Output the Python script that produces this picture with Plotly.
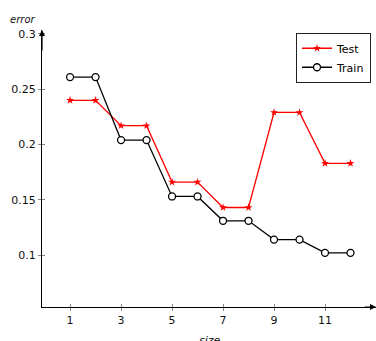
import plotly.graph_objects as go

sizes = [1, 2, 3, 4, 5, 6, 7, 8, 9, 10, 11, 12]
test_err = [0.240, 0.240, 0.217, 0.217, 0.166, 0.166, 0.143, 0.143, 0.229, 0.229, 0.183, 0.183]
train_err = [0.261, 0.261, 0.204, 0.204, 0.153, 0.153, 0.131, 0.131, 0.114, 0.114, 0.102, 0.102]
x_ticks = [1, 3, 5, 7, 9, 11]
y_ticks = [0.1, 0.15, 0.2, 0.25, 0.3]
y_tick_text = ["0.1", "0.15", "0.2", "0.25", "0.3"]

XR = [-0.1, 13.0]
YR = [0.053, 0.3036]
FONT = "DejaVu Sans"

fig = go.Figure()
fig.add_trace(go.Scatter(
    x=sizes, y=test_err, name="Test", mode="lines+markers",
    line=dict(color="red", width=1.3),
    marker=dict(symbol="star", size=6, color="red"),
))
fig.add_trace(go.Scatter(
    x=sizes, y=train_err, name="Train", mode="lines+markers",
    line=dict(color="black", width=1.3),
    marker=dict(symbol="circle", size=7, color="white", line=dict(color="black", width=1.3)),
))

fig.update_layout(
    width=376, height=341,
    margin=dict(l=42, r=0, t=30, b=34, autoexpand=False),
    paper_bgcolor="white", plot_bgcolor="white",
    font=dict(family=FONT, size=11, color="#111"),
    showlegend=True,
    legend=dict(x=0.985, y=0.99, xanchor="right", yanchor="top",
                bordercolor="#222", borderwidth=1, bgcolor="white",
                font=dict(size=11, color="black"), tracegroupgap=0,
                itemwidth=30),
    xaxis=dict(range=XR, tickvals=x_ticks, showgrid=False, zeroline=False, automargin=False,
               showline=True, linecolor="black", linewidth=1.2,
               ticks="outside", ticklen=3, tickcolor="#888", tickwidth=1,
               tickfont=dict(size=11, color="#111")),
    yaxis=dict(range=YR, tickvals=y_ticks, ticktext=y_tick_text, showgrid=False, zeroline=False,
               automargin=False,
               showline=True, linecolor="black", linewidth=1.2,
               ticks="outside", ticklen=3, tickcolor="#888", tickwidth=1,
               tickfont=dict(size=11, color="#111")),
    xaxis2=dict(range=XR, overlaying="x", tickvals=x_ticks, showticklabels=False, automargin=False,
                showgrid=False, zeroline=False, ticks="inside", ticklen=3,
                tickcolor="#888", side="bottom", anchor="y"),
    yaxis2=dict(range=YR, overlaying="y", tickvals=y_ticks, showticklabels=False, automargin=False,
                showgrid=False, zeroline=False, ticks="inside", ticklen=3,
                tickcolor="#888", side="left", anchor="x"),
)
fig.add_trace(go.Scatter(x=[None], y=[None], xaxis="x2", yaxis="y2", showlegend=False))

# arrowheads on axes
fig.add_annotation(x=XR[1], y=YR[0], ax=XR[1] - 0.5, ay=YR[0], xref="x", yref="y",
                   axref="x", ayref="y", text="", showarrow=True, arrowhead=2,
                   arrowsize=1, arrowwidth=1.2, arrowcolor="black")
fig.add_annotation(x=XR[0], y=YR[1], ax=XR[0], ay=YR[1] - 0.02, xref="x", yref="y",
                   axref="x", ayref="y", text="", showarrow=True, arrowhead=2,
                   arrowsize=1, arrowwidth=1.2, arrowcolor="black")

# axis titles
fig.add_annotation(x=-0.057, y=1.0, xref="paper", yref="paper", yshift=18, text="<i>error</i>",
                   showarrow=False, font=dict(size=10, color="#111"), xanchor="center")
fig.add_annotation(x=6.5, y=0, xref="x", yref="paper", yshift=-33, text="<i>size</i>",
                   showarrow=False, font=dict(size=11, color="#111"), yanchor="middle")

fig.write_html("out.html", config={"displayModeBar": False},
               post_script="document.body.style.margin='0';")
